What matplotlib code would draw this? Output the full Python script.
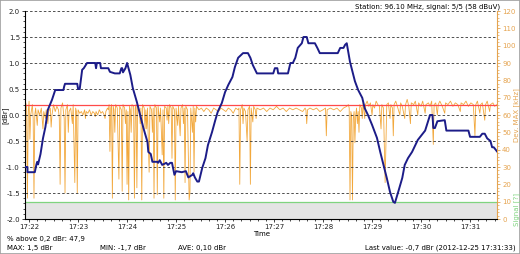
import numpy as np
import matplotlib
matplotlib.use("Agg")
import matplotlib.pyplot as plt
from matplotlib.ticker import MultipleLocator

# time in seconds after 17:22:00
tick_labels = ["17:22", "17:23", "17:24", "17:25", "17:26", "17:27", "17:28", "17:29", "17:30", "17:31"]
t_start, t_end = -5, 573

# level relative to reference [dBr]
level_pts = [
    (-5, -1.0), (-2, -1.0), (-2, -1.1), (7, -1.1), (9, -0.95), (10, -0.9), (11, -0.95),
    (14, -0.75), (17, -0.45), (20, -0.23), (23, 0.1), (28, 0.29), (32, 0.48), (42, 0.48),
    (43, 0.55), (44, 0.6), (59, 0.6), (60, 0.5), (62, 0.5), (65, 0.87), (67, 0.9), (71, 1.0),
    (81, 1.0), (82, 0.9), (83, 1.0), (87, 1.0), (88, 0.9), (97, 0.9), (99, 0.83), (105, 0.8),
    (111, 0.8), (113, 0.9), (114, 0.9), (115, 0.82), (118, 0.9), (120, 1.0), (124, 0.77),
    (127, 0.52), (132, 0.25), (136, 0.0), (140, -0.25), (145, -0.52), (146, -0.71),
    (149, -0.75), (151, -0.9), (157, -0.9), (158, -0.92), (160, -0.87), (163, -0.96),
    (168, -0.92), (170, -0.96), (173, -0.92), (175, -0.92), (178, -1.15), (180, -1.08),
    (187, -1.1), (192, -1.08), (195, -1.2), (200, -1.15), (201, -1.12), (203, -1.2),
    (206, -1.28), (208, -1.28), (212, -1.02), (216, -0.83), (219, -0.58), (224, -0.33),
    (228, -0.1), (231, 0.06), (236, 0.23), (240, 0.44), (244, 0.58), (249, 0.73),
    (252, 0.92), (256, 1.1), (262, 1.19), (268, 1.19), (271, 1.1), (274, 0.96), (279, 0.8),
    (299, 0.8), (301, 0.9), (304, 0.9), (305, 0.8), (317, 0.8), (320, 1.0), (323, 1.0),
    (326, 1.1), (329, 1.29), (334, 1.38), (336, 1.5), (340, 1.5), (342, 1.38), (350, 1.38),
    (353, 1.29), (356, 1.19), (378, 1.19), (381, 1.29), (385, 1.29), (387, 1.35),
    (389, 1.38), (393, 1.02), (397, 0.77), (399, 0.65), (403, 0.48), (408, 0.33),
    (411, 0.13), (415, 0.0), (420, -0.19), (426, -0.44), (430, -0.71), (434, -0.96),
    (438, -1.21), (442, -1.48), (446, -1.67), (448, -1.69), (452, -1.48), (457, -1.21),
    (460, -0.96), (464, -0.83), (469, -0.71), (473, -0.58), (476, -0.48), (481, -0.38),
    (485, -0.3), (489, -0.1), (491, 0.0), (494, 0.0), (495, -0.25), (497, -0.25),
    (500, -0.12), (509, -0.1), (511, -0.3), (538, -0.3), (540, -0.42), (552, -0.42),
    (555, -0.36), (558, -0.36), (561, -0.45), (565, -0.5), (567, -0.62), (569, -0.62),
    (573, -0.7),
]

# max deviation [kHz]
dev_pts = [
    (-5, 63), (-4, 67), (-3, 64), (-2, 12), (-1, 62), (0, 68), (1, 46), (2, 60), (4, 66),
    (5, 58), (6, 12), (7, 60), (8, 64), (10, 54), (11, 63), (13, 60), (15, 64), (17, 52),
    (18, 62), (20, 58), (21, 63), (23, 55), (24, 62), (26, 64), (27, 53), (28, 60), (30, 66),
    (32, 62), (34, 65), (36, 63), (37, 58), (38, 20), (39, 64), (41, 67), (42, 62), (43, 58),
    (44, 15), (45, 63), (47, 66), (48, 50), (49, 62), (51, 64), (53, 55), (54, 66), (56, 21),
    (57, 64), (58, 62), (59, 15), (60, 63),
    (62, 61), (64, 62), (66, 60), (68, 63), (69, 58), (70, 62), (72, 61), (74, 63), (76, 60),
    (78, 62), (80, 61), (81, 59), (82, 62), (84, 60), (86, 63), (88, 61), (90, 62), (92, 60),
    (93, 58), (94, 62), (96, 64), (97, 63),
    (98, 66), (99, 39), (100, 64), (101, 66), (102, 12), (103, 65), (104, 63), (105, 50),
    (106, 66), (108, 64), (110, 23), (111, 65), (113, 63), (114, 16), (115, 66), (117, 64),
    (118, 55), (119, 63), (120, 20), (121, 62), (122, 11), (123, 65), (124, 63), (125, 50),
    (126, 66), (128, 65), (129, 12), (130, 64), (131, 66), (132, 18), (133, 65), (135, 63),
    (136, 55), (137, 64), (138, 11), (139, 66), (141, 64), (142, 52), (143, 63), (144, 52),
    (145, 64), (147, 27), (148, 65), (150, 63), (151, 50), (152, 64), (153, 12), (154, 66),
    (156, 64), (157, 14), (158, 65), (160, 56), (161, 64), (163, 37), (164, 63), (165, 12),
    (166, 65), (168, 64), (169, 57), (170, 65), (171, 55), (172, 66), (174, 64), (175, 35),
    (176, 65), (178, 63), (179, 11), (180, 64), (182, 54), (183, 65), (185, 48), (186, 64),
    (188, 66), (189, 55), (190, 64), (191, 21), (192, 65), (194, 63), (196, 11), (197, 15),
    (198, 64), (200, 50), (201, 65), (202, 27), (203, 64), (204, 56), (205, 65),
    (208, 63), (211, 64), (214, 62), (217, 64), (220, 63), (223, 61), (226, 64), (229, 63),
    (232, 62), (235, 64), (238, 63), (241, 62), (244, 64), (247, 63), (250, 61), (253, 64),
    (256, 63), (257, 64), (258, 20), (259, 63), (261, 66), (262, 55), (263, 64), (265, 62),
    (267, 45), (268, 63), (270, 65), (271, 20), (272, 64), (274, 56), (275, 65), (277, 63),
    (278, 58), (279, 64),
    (283, 63), (287, 64), (291, 62), (295, 64), (299, 63), (303, 65), (307, 63), (311, 64),
    (315, 62), (319, 64), (323, 63), (327, 64), (331, 63), (335, 62), (338, 64), (339, 63),
    (340, 55), (341, 63), (344, 64), (348, 63), (352, 64), (356, 62), (360, 63), (363, 64),
    (364, 48), (365, 63), (369, 64), (373, 63), (377, 64), (381, 62), (385, 64), (389, 65),
    (391, 66), (392, 64), (393, 11), (394, 62), (395, 60), (396, 11), (397, 58), (398, 62),
    (399, 44), (400, 60), (401, 64), (402, 55), (403, 62), (404, 50), (405, 66), (407, 64),
    (408, 58), (409, 67), (411, 58), (412, 66), (414, 68), (416, 65), (418, 67), (420, 60),
    (421, 66), (423, 64), (425, 68), (427, 66), (429, 65), (431, 52), (432, 66), (434, 64),
    (436, 21), (437, 45), (438, 66), (440, 67), (442, 58), (443, 66), (445, 64), (446, 48),
    (447, 66), (449, 68), (451, 65), (454, 60), (455, 67), (457, 65), (460, 58), (461, 66),
    (463, 69), (465, 65), (467, 55), (468, 67), (471, 66), (473, 68), (476, 60), (477, 67),
    (480, 65), (482, 68), (485, 61), (486, 66), (489, 67), (491, 65), (493, 68), (495, 43),
    (496, 66), (498, 67), (500, 60), (501, 66), (503, 68), (506, 65), (509, 61), (510, 67),
    (513, 66), (516, 68), (519, 65), (522, 67), (525, 66), (528, 62), (529, 67), (532, 66),
    (535, 68), (538, 65), (541, 67), (544, 66), (546, 48), (547, 66), (549, 68), (552, 61),
    (553, 66), (555, 67), (558, 57), (559, 66), (561, 68), (564, 62), (565, 66), (568, 67),
    (570, 65), (573, 66),
]

threshold_dbr = 0.2
signal_level = 10

lvl_t, lvl_v = zip(*level_pts)
dev_t, dev_v = zip(*dev_pts)

BLUE = "#1c1c88"
ORANGE = "#f2a83c"
AX_ORANGE = "#e5a450"
RED = "#ff4a4a"
GREEN = "#7fd47f"
FS = 5.0

fig = plt.figure(figsize=(5.2, 2.54), dpi=100)
ax = fig.add_axes([25 / 520, 1 - 219 / 254, 472 / 520, 208 / 254])
ax2 = ax.twinx()
ax.set_zorder(ax2.get_zorder() + 1)
ax.patch.set_visible(False)

# right axis: deviation + signal band
ax2.axhspan(0, signal_level, color="#e4e4e4", lw=0, zorder=0)
ax2.axhline(signal_level, color=GREEN, lw=0.9, zorder=1)
ax2.plot(dev_t, dev_v, color=ORANGE, lw=0.6, zorder=2)
ax2.set_ylim(0, 120)
ax2.yaxis.set_major_locator(MultipleLocator(10))
ax2.yaxis.set_minor_locator(MultipleLocator(2))
ax2.tick_params(axis="y", colors=AX_ORANGE, labelsize=FS, length=2.5, width=0.6, pad=1.2)
ax2.tick_params(axis="y", which="minor", length=1.3, width=0.5, colors=AX_ORANGE)
for s in ["top", "left", "bottom"]:
    ax2.spines[s].set_visible(False)
ax2.spines["right"].set_color(AX_ORANGE)
ax2.spines["right"].set_linewidth(0.8)

# left axis: dBr
for yv in np.arange(-1.5, 2.01, 0.5):
    ax.axhline(yv, color="#333333", lw=0.6, ls=(0, (3, 2.5)), zorder=1)
ax.axhline(threshold_dbr, color=RED, lw=0.9, zorder=2)
ax.plot(lvl_t, lvl_v, color=BLUE, lw=1.4, zorder=3)
ax.set_ylim(-2.0, 2.0)
ax.set_xlim(t_start, t_end)
ax.yaxis.set_major_locator(MultipleLocator(0.5))
ax.yaxis.set_minor_locator(MultipleLocator(0.1))
ax.yaxis.set_major_formatter(plt.FuncFormatter(lambda v, p: f"{v:.1f}"))
ax.set_xticks(np.arange(len(tick_labels)) * 60)
ax.set_xticklabels(tick_labels)
ax.xaxis.set_minor_locator(MultipleLocator(10))
ax.tick_params(labelsize=FS, colors="#222222", length=2.5, width=0.6, pad=1.2)
ax.tick_params(which="minor", length=1.3, width=0.5)
ax.spines["top"].set_visible(False)
ax.spines["right"].set_visible(False)
ax.spines["left"].set_linewidth(0.8)
ax.spines["bottom"].set_linewidth(0.8)

fig.text(5 / 520, 1 - 115 / 254, "[dBr]", rotation=90, fontsize=FS, va="center", ha="center")
fig.text(517 / 520, 1 - 115 / 254, "Dev. MAX [kHz]", rotation=90, fontsize=FS,
         va="center", ha="center", color=AX_ORANGE)
fig.text(517 / 520, 1 - 209 / 254, "Signal [?]", rotation=90, fontsize=FS,
         va="center", ha="center", color=GREEN)
fig.text(262 / 520, 1 - 234 / 254, "Time", fontsize=FS, ha="center", va="center")
fig.text(500 / 520, 1 - 7 / 254, "Station: 96.10 MHz, signal: 5/5 (58 dBuV)",
         fontsize=FS, ha="right", va="center")
fig.text(7 / 520, 1 - 239 / 254, "% above 0,2 dBr: 47,9", fontsize=FS, va="center")
fig.text(7 / 520, 1 - 248 / 254, "MAX: 1,5 dBr", fontsize=FS, va="center")
fig.text(100 / 520, 1 - 248 / 254, "MIN: -1,7 dBr", fontsize=FS, va="center")
fig.text(178 / 520, 1 - 248 / 254, "AVE: 0,10 dBr", fontsize=FS, va="center")
fig.text(516 / 520, 1 - 248 / 254, "Last value: -0,7 dBr (2012-12-25 17:31:33)",
         fontsize=FS, ha="right", va="center")

fig.patches.append(plt.Rectangle((0, 0), 1, 1, transform=fig.transFigure, fill=False,
                                 edgecolor="#a0a0a0", lw=1.2))

fig.savefig("out.png", dpi=100)
